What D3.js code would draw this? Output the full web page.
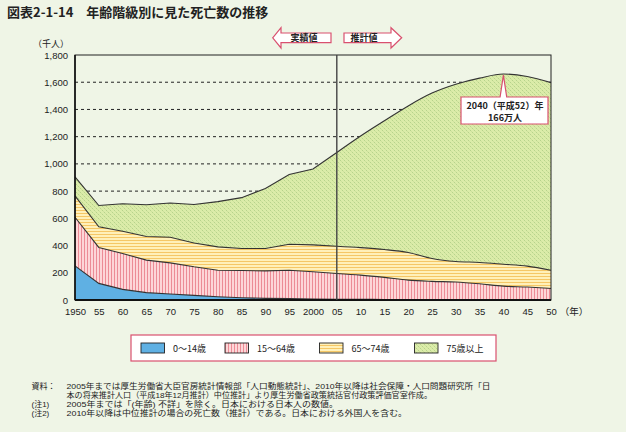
<!DOCTYPE html>
<html><head><meta charset="utf-8">
<script src="https://cdn.jsdelivr.net/npm/d3@7"></script>
<style>
html,body{margin:0;padding:0;background:#eff5e6;}
svg{display:block;font-family:"Noto Sans CJK JP","Noto Sans",sans-serif;}
</style></head>
<body>
<svg id="c" width="626" height="432"></svg>
<script>
// ---- data (thousands of deaths) ----
const years     = [1950,1955,1960,1965,1970,1975,1980,1985,1990,1995,2000,2005,2010,2015,2020,2025,2030,2035,2040,2045,2050];
const age0_14   = [251,122,78,54,44,34,24,17,12,10,7,6,5,4,4,3,3,3,3,2,2];
const age15_64  = [357,264,263,239,229,210,195,200,202,209,200,189,178,162,142,134,129,116,99,93,83];
const age65_74  = [157,152,164,173,188,175,171,161,164,191,198,200,202,205,203,168,151,157,161,154,134];
const age75plus = [140,156,202,234,252,283,333,374,442,512,557,689,820,946,1077,1215,1302,1354,1397,1393,1378];
const seriesNames = ["0〜14歳","15〜64歳","65〜74歳","75歳以上"];
const yTicks = [0,200,400,600,800,1000,1200,1400,1600,1800];
const splitYear = 2005;
const titleText = "図表2-1-14　年齢階級別に見た死亡数の推移";
const unitText = "（千人）";
const xUnitText = "（年）";
const arrowLeftText = "実績値";
const arrowRightText = "推計値";
const calloutLines = ["2040（平成52）年","166万人"];
const calloutYear = 2040, calloutValue = 1660;
const noteLabels = ["資料：","","(注1)","(注2)"];
const noteTexts = [
  "2005年までは厚生労働省大臣官房統計情報部「人口動態統計」、2010年以降は社会保障・人口問題研究所「日",
  "本の将来推計人口（平成18年12月推計）中位推計」より厚生労働省政策統括官付政策評価官室作成。",
  "2005年までは「(年齢) 不詳」を除く。日本における日本人の数値。",
  "2010年以降は中位推計の場合の死亡数（推計）である。日本における外国人を含む。"
];

const keys = ["a","b","c","d"];
const rows = years.map((y,i)=>({year:y,a:age0_14[i],b:age15_64[i],c:age65_74[i],d:age75plus[i]}));
const LF = "'Liberation Sans','Noto Sans CJK JP',sans-serif";

const svg = d3.select("#c");
const M = {l:75,r:551,t:55,b:300};
const x = d3.scaleLinear().domain([1950,2050]).range([M.l,M.r]);
const y = d3.scaleLinear().domain([0,1800]).range([M.b,M.t]);

// patterns
const defs = svg.append("defs");
const pv = defs.append("pattern").attr("id","pv").attr("patternUnits","userSpaceOnUse").attr("width",3).attr("height",3);
pv.append("rect").attr("width",3).attr("height",3).attr("fill","#fdd6d8");
pv.append("rect").attr("x",0).attr("width",1).attr("height",3).attr("fill","#ec8c96");
const ph = defs.append("pattern").attr("id","ph").attr("patternUnits","userSpaceOnUse").attr("width",3).attr("height",3);
ph.append("rect").attr("width",3).attr("height",3).attr("fill","#fff0b9");
ph.append("rect").attr("y",0).attr("width",3).attr("height",1).attr("fill","#f5c766");
const pg = defs.append("pattern").attr("id","pg").attr("patternUnits","userSpaceOnUse").attr("width",4).attr("height",4);
pg.append("rect").attr("width",4).attr("height",4).attr("fill","#dbeca9");
pg.append("rect").attr("x",0).attr("y",0).attr("width",1).attr("height",1).attr("fill","#b7d38c");
pg.append("rect").attr("x",2).attr("y",2).attr("width",1).attr("height",1).attr("fill","#b7d38c");
pg.append("rect").attr("x",1).attr("y",1).attr("width",1).attr("height",1).attr("fill","#cde19c");
pg.append("rect").attr("x",3).attr("y",3).attr("width",1).attr("height",1).attr("fill","#cde19c");
const fills = ["#5fb0e3","url(#pv)","url(#ph)","url(#pg)"];

// title
svg.append("text").attr("x",7).attr("y",17).attr("font-size",13).attr("font-weight","bold").attr("fill","#222").text(titleText);

// plot background
svg.append("rect").attr("x",M.l).attr("y",M.t).attr("width",M.r-M.l).attr("height",M.b-M.t).attr("fill","#eff5e6");

// gridlines
svg.append("g").selectAll("line").data(yTicks.filter(v=>v>0&&v<1800)).join("line")
  .attr("x1",M.l).attr("x2",M.r).attr("y1",d=>y(d)).attr("y2",d=>y(d))
  .attr("stroke","#222").attr("stroke-width",1).attr("stroke-dasharray","3,3");

// stacked areas
const stacked = d3.stack().keys(keys)(rows);
const areaLin = d3.area().x(d=>x(d.data.year)).y0(d=>y(d[0])).y1(d=>y(d[1])).curve(d3.curveLinear);
const areaMon = d3.area().x(d=>x(d.data.year)).y0(d=>y(d[0])).y1(d=>y(d[1])).curve(d3.curveMonotoneX);
const lineLin = d3.line().x(d=>x(d.data.year)).y(d=>y(d[1])).curve(d3.curveLinear);
const lineMon = d3.line().x(d=>x(d.data.year)).y(d=>y(d[1])).curve(d3.curveMonotoneX);
const gA = svg.append("g");
stacked.forEach((s,i)=>{
  const hist = s.filter(d=>d.data.year<=splitYear);
  const proj = s.filter(d=>d.data.year>=splitYear);
  gA.append("path").attr("d",areaLin(hist)).attr("fill",fills[i]);
  gA.append("path").attr("d",areaMon(proj)).attr("fill",fills[i]);
});
stacked.forEach((s,i)=>{
  const hist = s.filter(d=>d.data.year<=splitYear);
  const proj = s.filter(d=>d.data.year>=splitYear);
  gA.append("path").attr("d",lineLin(hist)).attr("fill","none").attr("stroke","#333").attr("stroke-width",1.1);
  gA.append("path").attr("d",lineMon(proj)).attr("fill","none").attr("stroke","#333").attr("stroke-width",1.1);
});

// frame
svg.append("rect").attr("x",M.l).attr("y",M.t).attr("width",M.r-M.l).attr("height",M.b-M.t)
  .attr("fill","none").attr("stroke","#222").attr("stroke-width",1);
svg.append("line").attr("x1",M.l).attr("x2",M.l).attr("y1",M.t).attr("y2",M.b).attr("stroke","#111").attr("stroke-width",1.6);
svg.append("line").attr("x1",M.l).attr("x2",M.r).attr("y1",M.b).attr("y2",M.b).attr("stroke","#111").attr("stroke-width",2);

// split line
svg.append("line").attr("x1",x(splitYear)).attr("x2",x(splitYear)).attr("y1",M.t).attr("y2",M.b)
  .attr("stroke","#444").attr("stroke-width",1.4);

// y axis
const yAx = svg.append("g").attr("transform",`translate(${M.l},0)`)
  .call(d3.axisLeft(y).tickValues(yTicks).tickFormat(d3.format(",")).tickSize(0).tickPadding(7));
yAx.select(".domain").remove();
yAx.selectAll("text").attr("font-size",9.5).attr("fill","#222").attr("font-family",LF);
svg.append("text").attr("x",69).attr("y",46.5).attr("text-anchor","end").attr("font-size",9)
  .attr("font-family",LF).attr("fill","#222").text(unitText);

// x axis
const xAx = svg.append("g").attr("transform",`translate(0,${M.b})`)
  .call(d3.axisBottom(x).tickValues(years).tickFormat(d=> (d===1950||d===2000)? String(d) : String(d).slice(2)).tickSize(0).tickPadding(8));
xAx.select(".domain").remove();
xAx.selectAll("text").attr("font-size",9.5).attr("fill","#222").attr("font-family",LF);
svg.append("text").attr("x",574).attr("y",315).attr("text-anchor","middle").attr("font-size",9.5)
  .attr("font-family",LF).attr("fill","#222").text(xUnitText);

// arrows
const ac = "#d9506f";
const ay = 37.8;
svg.append("path").attr("d",`M272.7,${ay} L281,27.7 L281,33 L331,33 L331,42.7 L281,42.7 L281,48 Z`)
  .attr("fill","#fff").attr("stroke",ac).attr("stroke-width",1.2);
svg.append("path").attr("d",`M344,33 L391,33 L391,27.7 L401.7,${ay} L391,48 L391,42.7 L344,42.7 Z`)
  .attr("fill","#fff").attr("stroke",ac).attr("stroke-width",1.2);
svg.append("text").attr("x",304).attr("y",ay+3.2).attr("text-anchor","middle").attr("font-size",9).attr("font-weight","bold").attr("fill","#222").text(arrowLeftText);
svg.append("text").attr("x",364).attr("y",ay+3.2).attr("text-anchor","middle").attr("font-size",9).attr("font-weight","bold").attr("fill","#222").text(arrowRightText);

// callout
const px = x(calloutYear), py = y(calloutValue);
svg.append("path").attr("d",`M461,97 L${px-3.3},97 L${px},${py+1} L${px+3.3},97 L548,97 L548,124 L461,124 Z`)
  .attr("fill","#fff").attr("stroke",ac).attr("stroke-width",1.2);
const ct = svg.append("text").attr("text-anchor","middle").attr("font-size",9).attr("font-weight","bold").attr("fill","#222");
ct.append("tspan").attr("x",505).attr("y",109).text(calloutLines[0]);
ct.append("tspan").attr("x",505).attr("y",120.5).text(calloutLines[1]);

// legend
svg.append("rect").attr("x",131).attr("y",335).attr("width",365).attr("height",26).attr("fill","#fff").attr("stroke",ac).attr("stroke-width",1.2);
const legX = [141,225,319.5,414.5];
seriesNames.forEach((n,i)=>{
  svg.append("rect").attr("x",legX[i]).attr("y",343).attr("width",23.5).attr("height",10).attr("fill",fills[i]).attr("stroke","#222").attr("stroke-width",0.9);
  svg.append("text").attr("x",legX[i]+32).attr("y",351.5).attr("font-size",9).attr("fill","#222").text(n);
});

// notes
const noteY = [388.5,397.5,406.5,415.5];
const noteLen = [424,365.5,271.5,340.5];
noteTexts.forEach((t,i)=>{
  if(noteLabels[i]) svg.append("text").attr("x",31.5).attr("y",noteY[i]).attr("font-size",8)
      .attr("font-family",LF).attr("fill","#222").text(noteLabels[i]);
  svg.append("text").attr("x",66.5).attr("y",noteY[i]).attr("font-size",8)
      .attr("font-family",LF).attr("fill","#222").text(t)
      .attr("textLength",noteLen[i]).attr("lengthAdjust","spacingAndGlyphs");
});
</script>
</body></html>
